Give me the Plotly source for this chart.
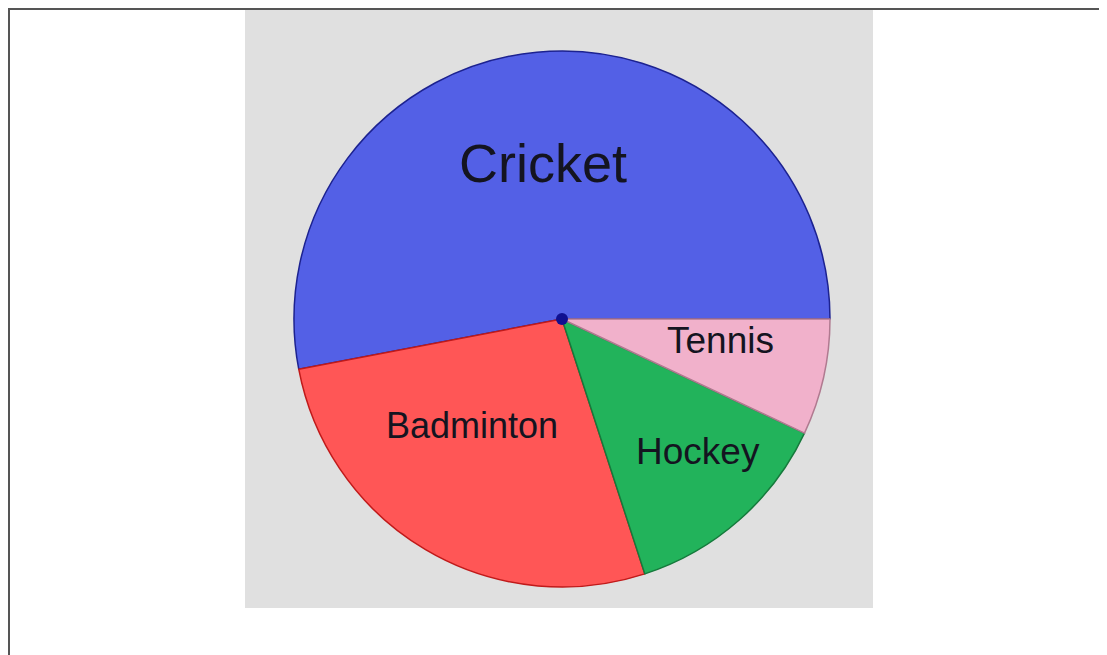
import plotly.graph_objects as go

# Data
sports = ["Cricket", "Badminton", "Hockey", "Tennis"]
shares = [53, 27, 13, 7]

# Styles
fill_colors = ["#5360e6", "#ff5656", "#22b35b", "#f1b1cb"]
edge_colors = ["#1c2290", "#c01a1a", "#167a3c", "#b07a90"]
label_sizes = [54, 36, 37, 37]
label_pos = [(543, 163), (472, 426), (698, 451), (720, 340)]  # pixel positions of label centres

OFF = 8  # page body margin
W, H = 1107 - OFF, 655 - OFF


def px(x):
    return (x - OFF) / W


def py(y):
    return 1 - (y - OFF) / H


cx, cy, r = 562, 319, 268

# plotly's counterclockwise layout ends the first slice at `rotation`;
# put that end where the first slice's counterclockwise span from 3 o'clock finishes
rotation = 90 - 360 * shares[0] / sum(shares)

fig = go.Figure(
    go.Pie(
        labels=sports,
        values=shares,
        sort=False,
        direction="counterclockwise",
        rotation=rotation,
        textinfo="none",
        hoverinfo="label+percent",
        marker=dict(colors=fill_colors, line=dict(color=edge_colors, width=1.5)),
        domain=dict(x=[px(cx - r), px(cx + r)], y=[py(cy + r), py(cy - r)]),
        showlegend=False,
    )
)

shapes = [
    dict(type="rect", xref="paper", yref="paper",
         x0=px(245), x1=px(873), y0=py(608), y1=py(9),
         fillcolor="#e0e0e0", line=dict(width=0), layer="below"),
    dict(type="rect", xref="paper", yref="paper",
         x0=px(9), x1=px(1120), y0=py(670), y1=py(9),
         fillcolor="rgba(0,0,0,0)", line=dict(color="#555555", width=2), layer="above"),
    dict(type="circle", xref="paper", yref="paper",
         x0=px(cx - 6), x1=px(cx + 6), y0=py(cy + 6), y1=py(cy - 6),
         fillcolor="#101090", line=dict(width=0), layer="above"),
]

annotations = []
for name, size, (x, y) in zip(sports, label_sizes, label_pos):
    annotations.append(dict(
        text=name, x=px(x), y=py(y), xref="paper", yref="paper",
        xanchor="center", yanchor="middle", showarrow=False,
        font=dict(family="Liberation Sans, Arial, sans-serif", size=size, color="#141420"),
    ))

fig.update_layout(
    width=W, height=H,
    margin=dict(l=0, r=0, t=0, b=0),
    paper_bgcolor="white",
    plot_bgcolor="white",
    shapes=shapes,
    annotations=annotations,
)

fig.write_html("out.html")
